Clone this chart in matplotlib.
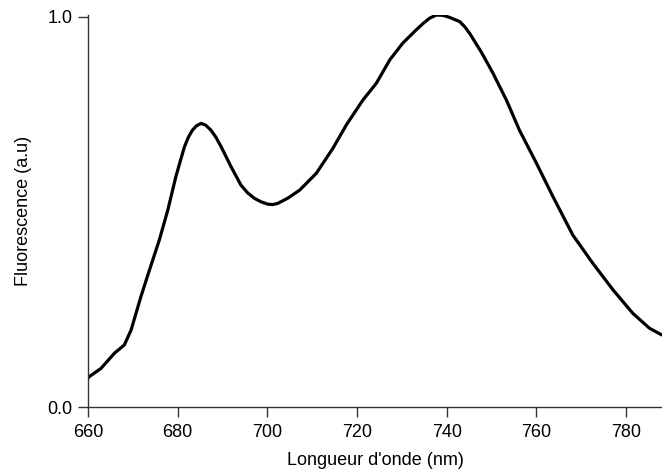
import matplotlib
matplotlib.use("Agg")
import matplotlib.pyplot as plt

wavelength = [660.0, 660.3, 662.9, 665.9, 668.1, 669.6, 671.8, 673.7, 675.9, 677.8, 679.6,
              681.5, 682.4, 683.3, 684.2, 685.2, 686.2, 687.4, 688.5, 689.7, 691.9,
              694.1, 695.6, 697.1, 698.6, 700.1, 701.2, 702.3, 704.5, 707.2, 710.9,
              714.6, 717.6, 721.3, 724.3, 727.3, 730.2, 733.2, 734.7, 736.2, 737.7,
              739.2, 740.6, 742.9, 744.0, 745.1, 747.7, 750.3, 753.3, 756.2, 760.0,
              763.7, 768.1, 772.6, 777.1, 781.5, 785.2, 787.9]
fluorescence = [0.074, 0.078, 0.099, 0.138, 0.159, 0.197, 0.283, 0.351, 0.428, 0.505, 0.591,
                0.667, 0.692, 0.710, 0.721, 0.727, 0.723, 0.710, 0.692, 0.667, 0.616,
                0.569, 0.549, 0.535, 0.526, 0.520, 0.519, 0.522, 0.535, 0.556, 0.599,
                0.663, 0.723, 0.787, 0.830, 0.890, 0.933, 0.967, 0.983, 0.997, 1.005,
                1.004, 0.999, 0.988, 0.975, 0.958, 0.910, 0.856, 0.787, 0.710, 0.625,
                0.539, 0.441, 0.368, 0.300, 0.240, 0.202, 0.185]
x_ticks = [660, 680, 700, 720, 740, 760, 780]
y_ticks = [0.0, 1.0]
y_tick_labels = ["0.0", "1.0"]

plt.rcParams['font.family'] = ['Liberation Sans', 'DejaVu Sans']

fig = plt.figure(figsize=(6.62, 4.72), dpi=100)
ax = fig.add_axes([88/662, 1-407/472, 1-88/662, (407-15)/472])
ax.plot(wavelength, fluorescence, color='black', lw=2.3,
        solid_capstyle='round', solid_joinstyle='round')
ax.set_xlim(660, 788)
ax.set_ylim(0, 1.005)
ax.set_xticks(x_ticks)
ax.set_yticks(y_ticks)
ax.set_yticklabels(y_tick_labels)
for s in ['top', 'right']:
    ax.spines[s].set_visible(False)
for s in ['left', 'bottom']:
    ax.spines[s].set_color('#333333')
    ax.spines[s].set_linewidth(1.0)
ax.tick_params(direction='out', length=7, width=1, color='#333333', labelsize=13)
ax.tick_params(axis='x', pad=5)
ax.tick_params(axis='y', pad=4)
ax.set_xlabel("Longueur d'onde (nm)", fontsize=13, labelpad=8)
ax.set_ylabel("Fluorescence (a.u)", fontsize=13, labelpad=11)
fig.savefig('out.png', dpi=100)
